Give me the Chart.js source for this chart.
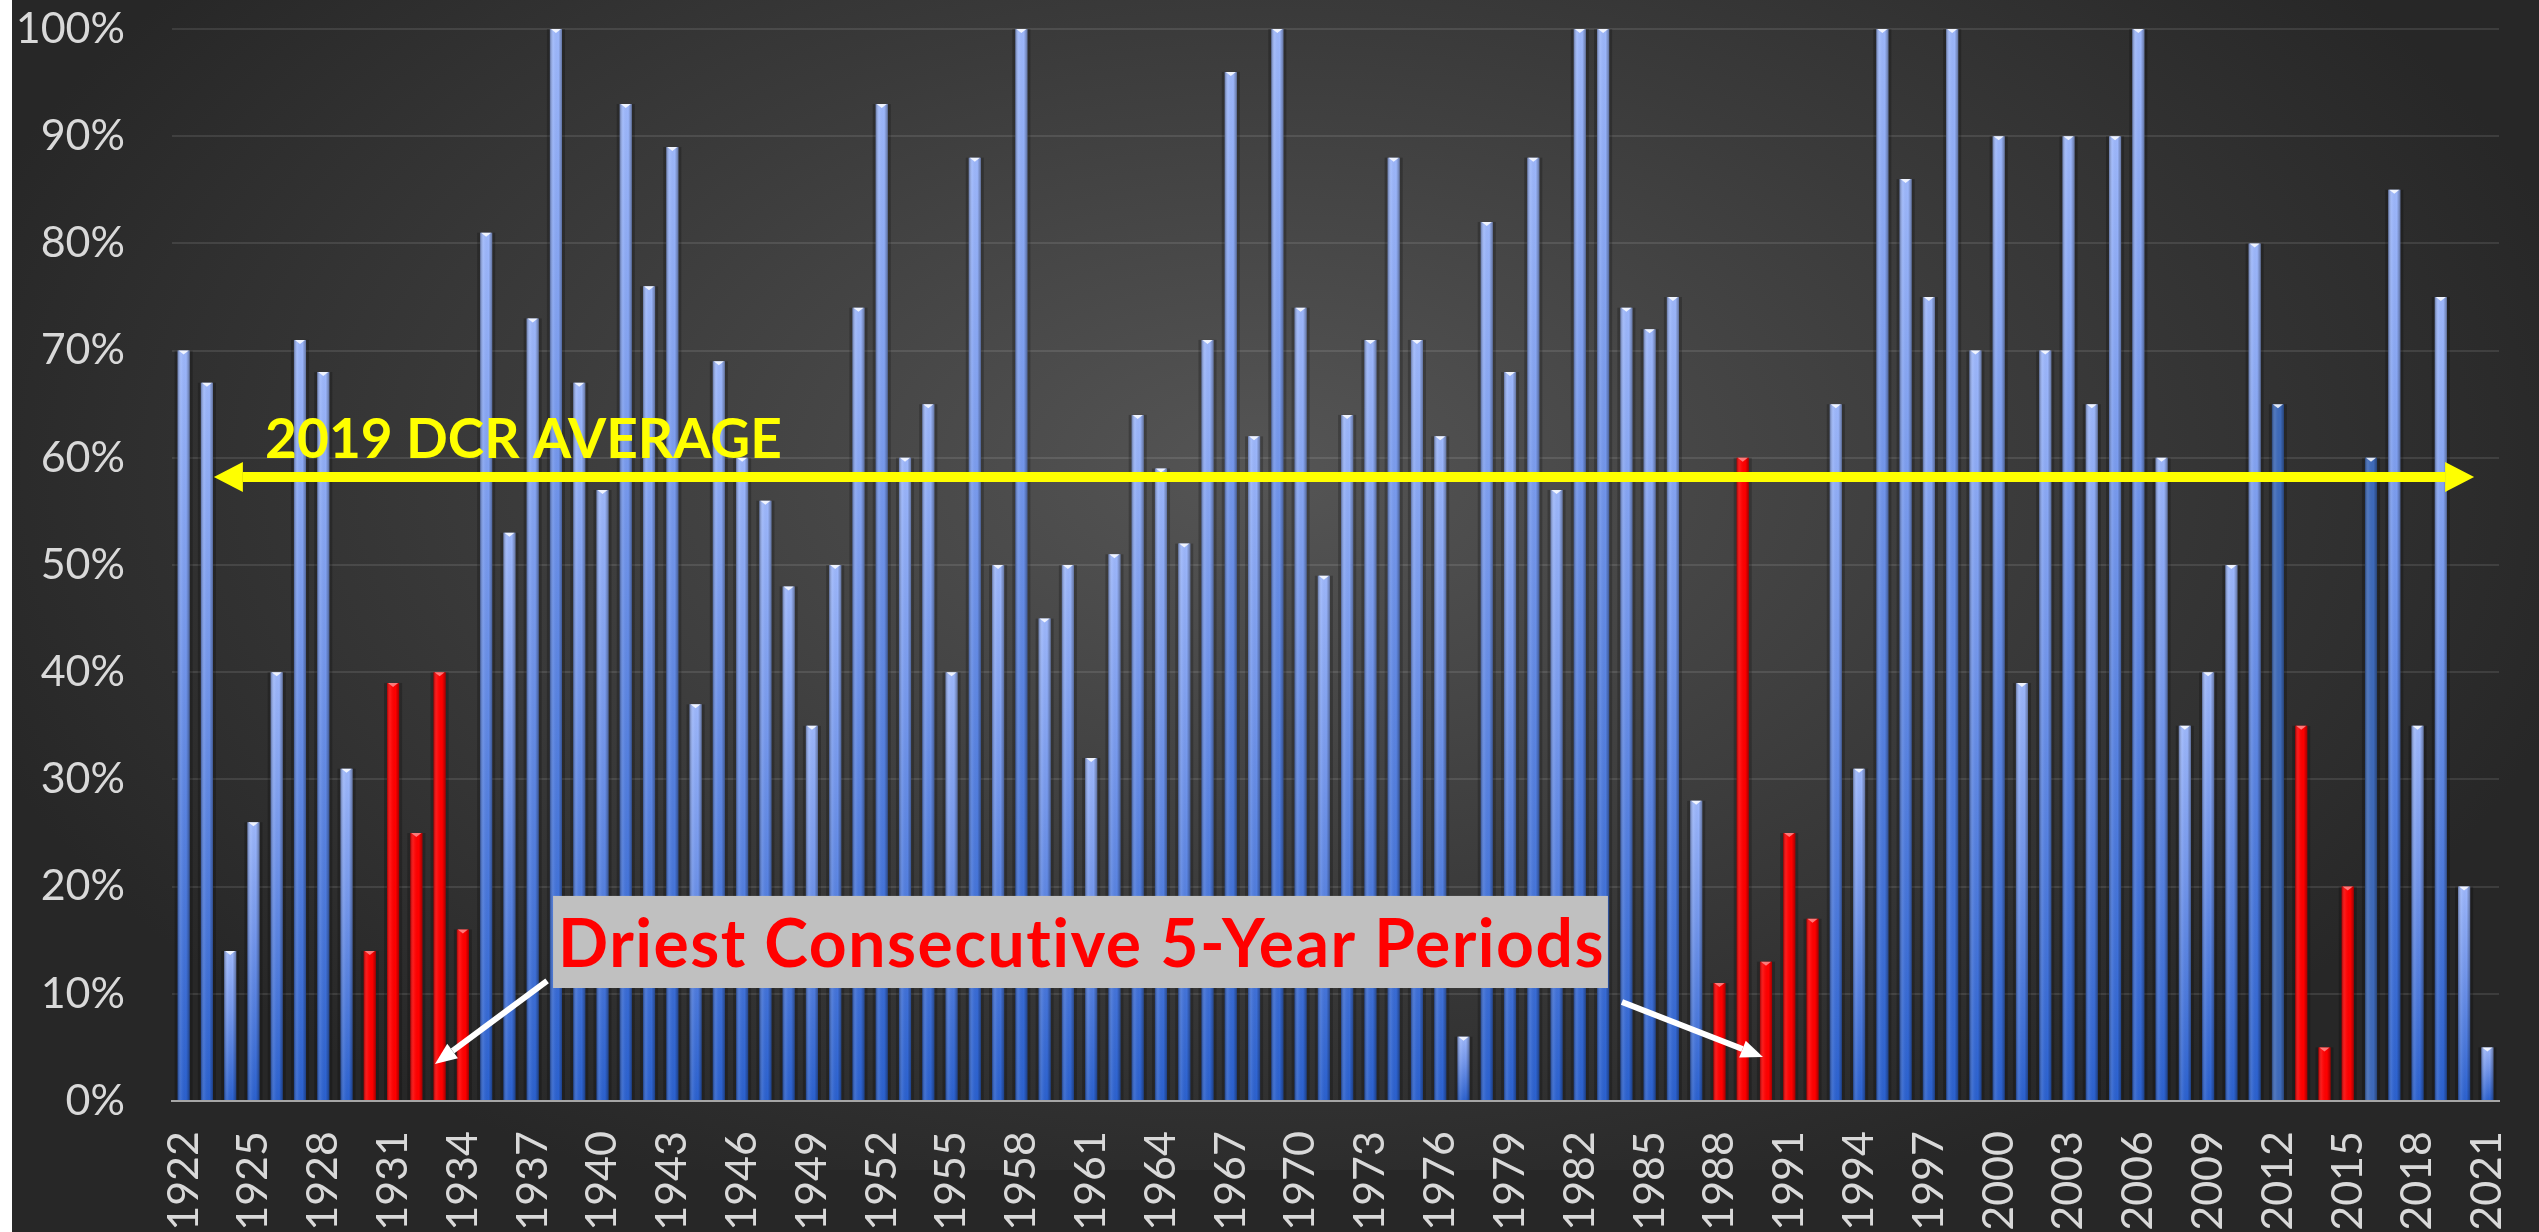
<!DOCTYPE html>
<html>
<head>
<meta charset="utf-8">
<script src="https://cdn.jsdelivr.net/npm/chart.js@4.4.1/dist/chart.umd.min.js"></script>
<style>
  html, body { margin: 0; padding: 0; background: #fff; overflow: hidden; }
  #wrap { position: absolute; left: 12px; top: 0; width: 2527px; height: 1232px; }
</style>
</head>
<body>
<div id="wrap"><canvas id="myChart"></canvas></div>
<script>
// años (categorias)
const years = [
  1922, 1923, 1924, 1925, 1926, 1927, 1928, 1929, 1930, 1931,
  1932, 1933, 1934, 1935, 1936, 1937, 1938, 1939, 1940, 1941,
  1942, 1943, 1944, 1945, 1946, 1947, 1948, 1949, 1950, 1951,
  1952, 1953, 1954, 1955, 1956, 1957, 1958, 1959, 1960, 1961,
  1962, 1963, 1964, 1965, 1966, 1967, 1968, 1969, 1970, 1971,
  1972, 1973, 1974, 1975, 1976, 1977, 1978, 1979, 1980, 1981,
  1982, 1983, 1984, 1985, 1986, 1987, 1988, 1989, 1990, 1991,
  1992, 1993, 1994, 1995, 1996, 1997, 1998, 1999, 2000, 2001,
  2002, 2003, 2004, 2005, 2006, 2007, 2008, 2009, 2010, 2011,
  2012, 2013, 2014, 2015, 2016, 2017, 2018, 2019, 2020, 2021
];

// % de entrega por año
const allocation = [
  70, 67, 14, 26, 40, 71, 68, 31, 14, 39,
  25, 40, 16, 81, 53, 73, 100, 67, 57, 93,
  76, 89, 37, 69, 60, 56, 48, 35, 50, 74,
  93, 60, 65, 40, 88, 50, 100, 45, 50, 32,
  51, 64, 59, 52, 71, 96, 62, 100, 74, 49,
  64, 71, 88, 71, 62, 6, 82, 68, 88, 57,
  100, 100, 74, 72, 75, 28, 11, 60, 13, 25,
  17, 65, 31, 100, 86, 75, 100, 70, 90, 39,
  70, 90, 65, 90, 100, 60, 35, 40, 50, 80,
  65, 35, 5, 20, 60, 85, 35, 75, 20, 5
];

// años secos (rojo) y años marcados (azul oscuro)
const driestYears = [1930, 1931, 1932, 1933, 1934, 1988, 1989, 1990, 1991, 1992, 2013, 2014, 2015];
const markedYears = [2012, 2016];

const yTicks = [0, 10, 20, 30, 40, 50, 60, 70, 80, 90, 100];
const averageValue = 58.2;
const averageLabel = "2019 DCR AVERAGE";
const noteLabel = "Driest Consecutive 5-Year Periods";

function barFill(c) {
  const yr = years[c.dataIndex];
  if (driestYears.includes(yr)) return "#ff0000";
  if (markedYears.includes(yr)) return "#3e6aba";
  const chart = c.chart;
  const ys = chart.scales.y;
  if (!ys || !chart.chartArea) return "#5d85e2";
  const top = ys.getPixelForValue(c.raw);
  const base = ys.getPixelForValue(0);
  const g = chart.ctx.createLinearGradient(0, top, 0, base);
  g.addColorStop(0, "#9db7fb");
  g.addColorStop(0.4, "#7497ec");
  g.addColorStop(1, "#2b61cf");
  return g;
}

// fondo degradado
const fondo = {
  id: "fondo",
  beforeDraw(chart) {
    const ctx = chart.ctx;
    ctx.save();
    ctx.fillStyle = "#272727";
    ctx.fillRect(0, 0, chart.width, chart.height);
    ctx.translate(1250, 470);
    ctx.scale(1.7, 1);
    const g = ctx.createRadialGradient(0, 0, 0, 0, 0, 800);
    g.addColorStop(0, "#555555");
    g.addColorStop(0.55, "#3b3b3b");
    g.addColorStop(1, "#272727");
    ctx.fillStyle = g;
    ctx.fillRect(-900, -700, 1800, 1400);
    ctx.restore();
  }
};

// sombra + brillo de las barras (con la geometria de los elementos)
const relieve = {
  id: "relieve",
  beforeDatasetsDraw(chart) {
    const ctx = chart.ctx;
    const meta = chart.getDatasetMeta(0);
    ctx.save();
    ctx.fillStyle = "rgba(0,0,0,0.22)";
    meta.data.forEach((bar) => {
      ctx.fillRect(bar.x - bar.width / 2 - 3, bar.y, bar.width + 6, bar.base - bar.y);
    });
    ctx.restore();
  },
  afterDatasetsDraw(chart) {
    const ctx = chart.ctx;
    const meta = chart.getDatasetMeta(0);
    ctx.save();
    meta.data.forEach((bar, i) => {
      const l = bar.x - bar.width / 2;
      const g = ctx.createLinearGradient(l, 0, l + bar.width, 0);
      g.addColorStop(0, "rgba(0,0,0,0.35)");
      g.addColorStop(0.3, "rgba(255,255,255,0.08)");
      g.addColorStop(0.7, "rgba(0,0,0,0)");
      g.addColorStop(1, "rgba(0,0,0,0.35)");
      ctx.fillStyle = g;
      ctx.fillRect(l, bar.y, bar.width, bar.base - bar.y);
      const red = driestYears.includes(years[i]);
      ctx.fillStyle = red ? "rgba(255,170,170,0.7)" : "rgba(255,255,255,0.85)";
      ctx.beginPath();
      ctx.moveTo(l + 1, bar.y);
      ctx.lineTo(l + bar.width - 1, bar.y);
      ctx.lineTo(bar.x, bar.y + 4);
      ctx.closePath();
      ctx.fill();
    });
    ctx.restore();
  }
};

function flecha(ctx, x1, y1, x2, y2, w, headLen, headW, color) {
  const ang = Math.atan2(y2 - y1, x2 - x1);
  const bx = x2 - headLen * Math.cos(ang);
  const by = y2 - headLen * Math.sin(ang);
  ctx.strokeStyle = color;
  ctx.fillStyle = color;
  ctx.lineWidth = w;
  ctx.beginPath();
  ctx.moveTo(x1, y1);
  ctx.lineTo(bx, by);
  ctx.stroke();
  ctx.beginPath();
  ctx.moveTo(x2, y2);
  ctx.lineTo(bx + headW / 2 * Math.sin(ang), by - headW / 2 * Math.cos(ang));
  ctx.lineTo(bx - headW / 2 * Math.sin(ang), by + headW / 2 * Math.cos(ang));
  ctx.closePath();
  ctx.fill();
}

// anotaciones (en coordenadas de las escalas)
const anotaciones = {
  id: "anotaciones",
  afterDraw(chart) {
    const ctx = chart.ctx;
    const xs = chart.scales.x;
    const ys = chart.scales.y;
    const px = (i) => xs.getPixelForValue(i);
    const py = (v) => ys.getPixelForValue(v);
    ctx.save();

    // linea promedio con doble flecha
    const yAvg = py(averageValue);
    const xl = px(1.3), xr = px(98.43);
    flecha(ctx, (xl + xr) / 2, yAvg, xl, yAvg, 10, 29, 30, "#ffff00");
    flecha(ctx, (xl + xr) / 2, yAvg, xr, yAvg, 10, 29, 30, "#ffff00");

    ctx.font = "bold 55px Lato";
    ctx.fillStyle = "#ffff00";
    ctx.textBaseline = "alphabetic";
    ctx.textAlign = "left";
    ctx.fillText(averageLabel, px(3.5), py(60.0));

    // caja gris
    ctx.font = "bold 66px Lato";
    ctx.letterSpacing = "1.5px";
    const tx = px(16.09);
    const tw = ctx.measureText(noteLabel).width;
    const top = py(19.13), bottom = py(10.54);
    ctx.fillStyle = "#c0c0c0";
    ctx.fillRect(tx - 5, top, tw + 8, bottom - top);
    ctx.fillStyle = "#ff0000";
    ctx.fillText(noteLabel, tx, py(12.5));
    ctx.letterSpacing = "0px";

    // flechas blancas
    flecha(ctx, px(15.62), py(11.2), px(10.8), py(3.45), 6, 22, 18, "#ffffff");
    flecha(ctx, px(61.81), py(9.24), px(67.87), py(4.1), 6, 22, 18, "#ffffff");
    ctx.restore();
  }
};

const ctx = document.getElementById("myChart");
window.myChart = new Chart(ctx, {
  type: "bar",
  data: {
    labels: years,
    datasets: [
      {
        data: allocation,
        backgroundColor: barFill,
        borderWidth: 0,
        categoryPercentage: 1,
        barPercentage: 0.52,
      },
    ],
  },
  options: {
    responsive: true,
    maintainAspectRatio: false,
    animation: false,
    layout: { autoPadding: false, padding: { top: 29, right: 40, bottom: 0, left: 0 } },
    plugins: {
      legend: { display: false },
      tooltip: { enabled: false },
    },
    scales: {
      x: {
        grid: { display: false, drawTicks: false },
        border: { display: true, color: "#a6a6a6", width: 2 },
        ticks: {
          autoSkip: false,
          minRotation: 90,
          maxRotation: 90,
          padding: 30,
          color: "#d9d9d9",
          font: { family: "Lato", size: 43 },
          callback: (v, i) => (i % 3 === 0 ? String(years[i]) : ""),
        },
        afterFit: (s) => {
          s.height = 131;
          s.paddingLeft = 0;
          s.paddingRight = 0;
        },
      },
      y: {
        min: 0,
        max: 100,
        afterBuildTicks: (s) => { s.ticks = yTicks.map((v) => ({ value: v })); },
        grid: { color: "rgba(255,255,255,0.10)", lineWidth: 2, drawTicks: false },
        border: { display: false },
        ticks: {
          padding: 47,
          color: "#d9d9d9",
          font: { family: "Lato", size: 43 },
          callback: (v) => v + "%",
        },
        afterFit: (s) => {
          s.width = 160;
          s.paddingTop = 0;
          s.paddingBottom = 0;
        },
      },
    },
  },
  plugins: [fondo, relieve, anotaciones],
});
</script>
</body>
</html>
